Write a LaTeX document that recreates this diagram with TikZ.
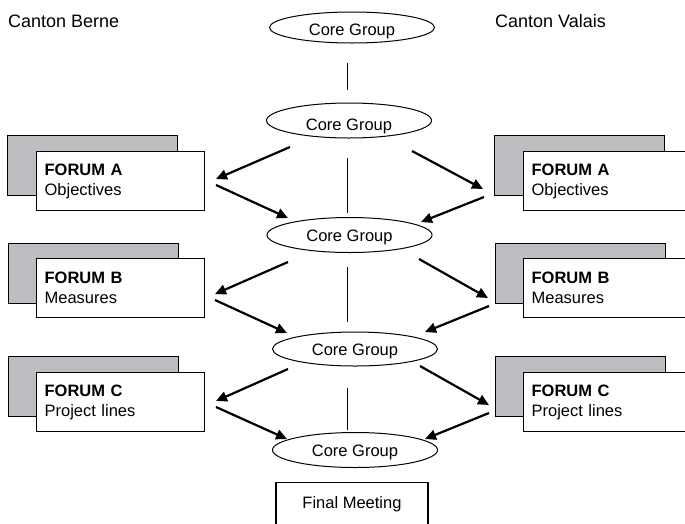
\documentclass[tikz,border=0pt]{standalone}
\usepackage{fontspec}
\setmainfont{Liberation Sans}
\usetikzlibrary{shapes.geometric,arrows.meta}
\definecolor{boxgray}{RGB}{190,190,194}
\begin{document}
\begin{tikzpicture}[x=1pt,y={(0pt,-1pt)},
  font=\fontsize{16.5pt}{20pt}\selectfont,
  core/.style={draw,line width=1pt,shape=ellipse,minimum width=165pt,minimum height=35pt,inner sep=0pt,text height=12pt,text depth=0pt},
  backbox/.style={draw,line width=1.2pt,fill=boxgray,minimum width=170pt,minimum height=60pt,anchor=north west,inner sep=0pt},
  frontbox/.style={draw,line width=1.2pt,fill=white,minimum width=168pt,minimum height=59pt,anchor=north west,text width=152pt,inner xsep=8pt,align=left},
  flow/.style={line width=2.2pt,-{Triangle[length=11pt,width=10pt]}},
  link/.style={line width=1pt},
  label/.style={font=\fontsize{18pt}{20pt}\selectfont,anchor=west,inner sep=0pt}]
\useasboundingbox (0,0) rectangle (685,523);
% labels
\node[label] (cb) at (8,21) {Canton Berne};
\node[label] (cv) at (495,21) {Canton Valais};
% core groups
\node[core,minimum height=31pt,text height=15pt] (e1) at (352,27.5) {Core Group};
\node[core,text height=19pt] (e2) at (349,120.5) {Core Group};
\node[core] (e3) at (349.5,235) {Core Group};
\node[core,minimum height=34pt] (e4) at (355,349) {Core Group};
\node[core] (e5) at (355,450) {Core Group};
% final meeting
\node[draw,line width=1.2pt,minimum width=152pt,anchor=north,inner ysep=14pt,text height=12pt,text depth=40pt] (fm) at (352,482) {Final Meeting};
% forums left
\node[backbox] (lab) at (7,135) {};
\node[frontbox] (la) at (36,151) {\textbf{FORUM A}\\Objectives};
\node[backbox] (lbb) at (8,243) {};
\node[frontbox] (lb) at (36,258) {\textbf{FORUM B}\\Measures};
\node[backbox] (lcb) at (8,356) {};
\node[frontbox] (lc) at (36,372) {\textbf{FORUM C}\\Project lines};
% forums right
\node[backbox] (rab) at (494,135) {};
\node[frontbox] (ra) at (523,151) {\textbf{FORUM A}\\Objectives};
\node[backbox] (rbb) at (495,243) {};
\node[frontbox] (rb) at (523,258) {\textbf{FORUM B}\\Measures};
\node[backbox] (rcb) at (495,356) {};
\node[frontbox] (rc) at (523,372) {\textbf{FORUM C}\\Project lines};
% vertical links
\coordinate (v0a) at (347,63); \coordinate (v0b) at (347,90);
\coordinate (v1a) at (347,158); \coordinate (v1b) at (347,213);
\coordinate (v2a) at (347,267); \coordinate (v2b) at (347,322);
\coordinate (v3a) at (347,388); \coordinate (v3b) at (347,430);
\draw[link] (v0a) -- (v0b);
\draw[link] (v1a) -- (v1b);
\draw[link] (v2a) -- (v2b);
\draw[link] (v3a) -- (v3b);
% arrows level A
\coordinate (a1s) at (290,147); \coordinate (a1e) at (216,179);
\coordinate (a2s) at (216,185); \coordinate (a2e) at (288,218);
\coordinate (a3s) at (412,151); \coordinate (a3e) at (483,189);
\coordinate (a4s) at (484,197); \coordinate (a4e) at (421,222);
% arrows level B
\coordinate (b1s) at (288,262); \coordinate (b1e) at (215,294);
\coordinate (b2s) at (215,300); \coordinate (b2e) at (287,333);
\coordinate (b3s) at (419,259); \coordinate (b3e) at (488,298);
\coordinate (b4s) at (489,306); \coordinate (b4e) at (425,332);
% arrows level C
\coordinate (c1s) at (288,369); \coordinate (c1e) at (216,401);
\coordinate (c2s) at (216,407); \coordinate (c2e) at (287,439);
\coordinate (c3s) at (420,366); \coordinate (c3e) at (489,405);
\coordinate (c4s) at (489,413); \coordinate (c4e) at (425,439);
\foreach \l in {a,b,c}{
  \foreach \i in {1,2,3,4}{
    \draw[flow] (\l\i s) -- (\l\i e);
  }
}
\end{tikzpicture}
\end{document}
